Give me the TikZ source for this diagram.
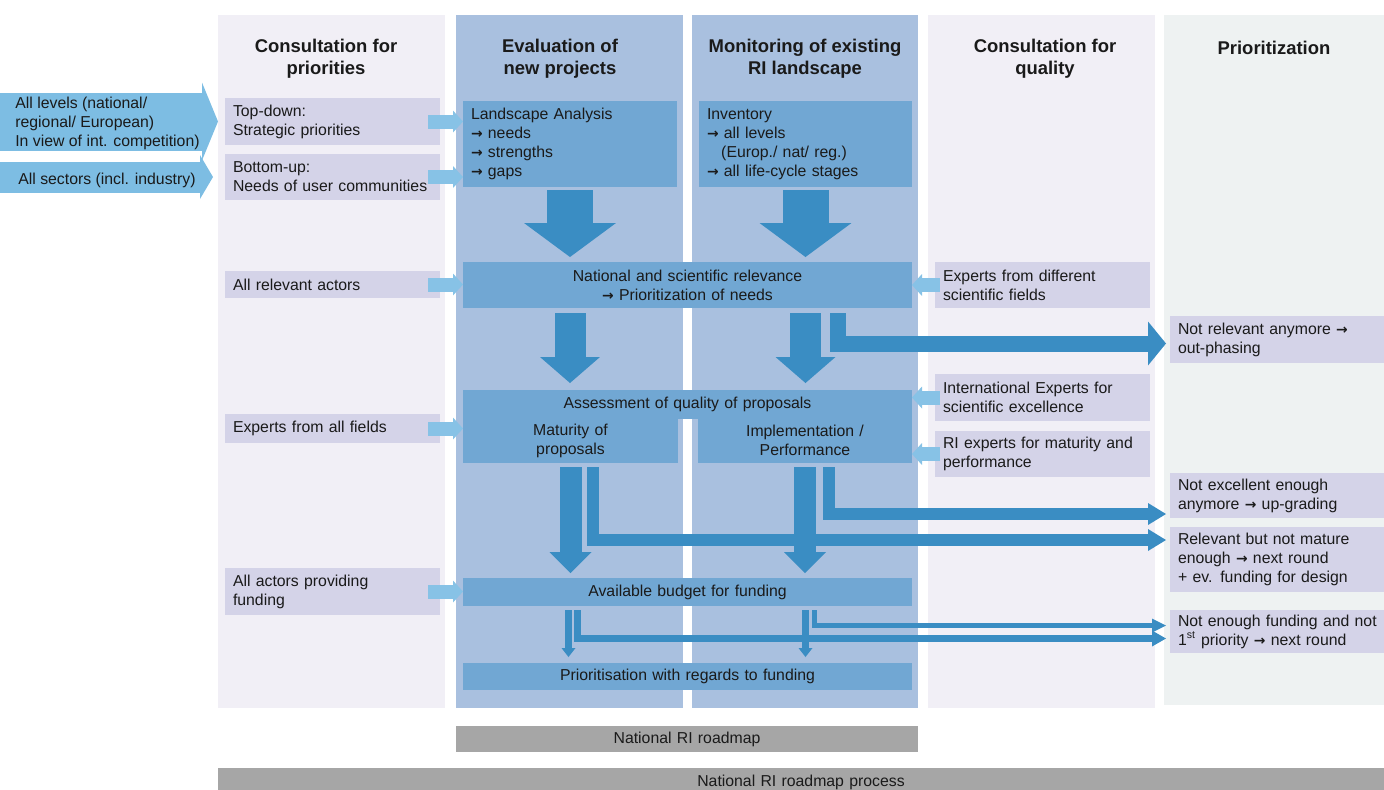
\documentclass[tikz,border=0pt]{standalone}
\usepackage{fontspec}
\setmainfont{Liberation Sans}
\newfontfamily\arrowfont{DejaVu Sans Bold}[Scale=0.88]
\usetikzlibrary{arrows.meta}
\definecolor{bgL}{HTML}{F1EFF6}
\definecolor{bgP}{HTML}{EEF2F2}
\definecolor{bgB}{HTML}{A9C0DF}
\definecolor{boxB}{HTML}{71A7D3}
\definecolor{arrD}{HTML}{3A8DC3}
\definecolor{lavB}{HTML}{D4D3E8}
\definecolor{arrL}{HTML}{87C2E6}
\definecolor{arrBig}{HTML}{7DBDE3}
\definecolor{greyB}{HTML}{A6A6A6}
\definecolor{txt}{HTML}{1A1A1A}
\newcommand\rar{{\arrowfont →}}
\newcommand\bx[7]{%
 \pgfmathsetlengthmacro\bxw{(#5-#3)*0.02cm}%
 \pgfmathsetlengthmacro\bxh{(#6-#4)*0.02cm}%
 \pgfmathsetlengthmacro\bxt{(#5-#3-16)*0.02cm}%
 \node[#1, minimum width=\bxw, minimum height=\bxh, text width=\bxt] (#2) at ({(#3+#5)/2},{(#4+#6)/2}) {#7};}
\tikzset{
 bxbase/.style={inner xsep=0.16cm, inner ysep=0pt, outer sep=0pt, text=txt, font=\fontsize{9}{10.8}\selectfont},
 colbg/.style={bxbase, fill=#1},
 lav/.style={bxbase, fill=lavB, align=left},
 bbl/.style={bxbase, fill=boxB, align=left},
 bbc/.style={bxbase, fill=boxB, align=center},
 greybox/.style={bxbase, fill=greyB, align=center},
 hdr/.style={inner sep=0pt, align=center, text=txt, font=\bfseries\fontsize{10.5}{12.5}\selectfont},
 atxt/.style={inner sep=0pt, anchor=west, align=left, text=txt, font=\fontsize{9}{10.8}\selectfont},
 blk/.style n args={4}{draw=#1, line width=#2, line join=miter, -{Triangle[width=#3,length=#4,line width=0pt]}},
 lt/.style={blk={arrL}{0.28cm}{0.44cm}{0.2cm}},
}
\begin{document}
\begin{tikzpicture}[x=0.02cm, y=-0.02cm]
\useasboundingbox (0,0) rectangle (1384,789);
\clip (0,0) rectangle (1384,789);
% columns
\bx{colbg=bgL}{c1}{218}{15}{445}{708}{}
\bx{colbg=bgB}{c2}{456}{15}{683}{708}{}
\bx{colbg=bgB}{c3}{692}{15}{918}{708}{}
\bx{colbg=bgL}{c4}{928}{15}{1155}{708}{}
\bx{colbg=bgP}{c5}{1164}{15}{1384}{705}{}
% headers
\node[hdr] (h1) at (326,59) {Consultation for\\priorities};
\node[hdr] (h2) at (560,59) {Evaluation of\\new projects};
\node[hdr] (h3) at (805,59) {Monitoring of existing\\RI landscape};
\node[hdr] (h4) at (1045,59) {Consultation for\\quality};
\node[hdr] (h5) at (1274,48) {Prioritization};
% column 1
\bx{lav}{td}{225}{98}{440}{145}{Top-down:\\Strategic priorities}
\bx{lav}{bu}{225}{154}{440}{200}{Bottom-up:\\Needs of user communities}
\bx{lav}{ra}{225}{271}{440}{298}{All relevant actors}
\bx{lav}{ef}{225}{414}{440}{443}{Experts from all fields}
\bx{lav}{fu}{225}{568}{440}{615}{All actors providing\\funding}
% columns 2/3
\bx{bbl}{la}{463}{101}{677}{187}{Landscape Analysis\\\rar{} needs\\\rar{} strengths\\\rar{} gaps}
\bx{bbl}{inv}{699}{101}{912}{187}{Inventory\\\rar{} all levels\\\hspace*{0.9em}(Europ./ nat/ reg.)\\\rar{} all life-cycle stages}
\bx{bbc}{nat}{463}{262}{912}{308}{National and scientific relevance\\\rar{} Prioritization of needs}
\bx{bbc}{as}{463}{390}{912}{419}{Assessment of quality of proposals}
\bx{bbc}{mat}{463}{418}{678}{463}{Maturity of\\proposals}
\bx{bbc}{imp}{698}{418}{912}{463}{Implementation /\\Performance}
\bx{bbc}{bud}{463}{578}{912}{606}{Available budget for funding}
\bx{bbc}{pri}{463}{663}{912}{690}{Prioritisation with regards to funding}
% column 4
\bx{lav}{edf}{935}{262}{1150}{308}{Experts from different\\scientific fields}
\bx{lav}{ief}{935}{374}{1150}{421}{International Experts for\\scientific excellence}
\bx{lav}{rie}{935}{431}{1150}{477}{RI experts for maturity and\\performance}
% column 5
\bx{lav}{nr}{1170}{316}{1400}{363}{Not relevant anymore \rar\\out-phasing}
\bx{lav}{ne}{1170}{473}{1400}{518}{Not excellent enough\\anymore \rar{} up-grading}
\bx{lav}{rb}{1170}{527}{1400}{592}{Relevant but not mature\\enough \rar{} next round\\+ ev. funding for design}
\bx{lav}{nf}{1170}{610}{1400}{653}{Not enough funding and not\\1\textsuperscript{st} priority \rar{} next round}
% bottom bars
\bx{greybox}{rm}{456}{726}{918}{752}{National RI roadmap}
\bx{greybox}{rmp}{218}{768}{1384}{796}{National RI roadmap process}
% big input arrows
\coordinate (lvS) at (0,121.5);
\draw[blk={arrBig}{1.16cm}{1.56cm}{0.32cm}] (lvS) -- ([xshift=-0.14cm]td.west);
\node[atxt] (lvT) at (15,123) {All levels (national/\\regional/ European)\\In view of int. competition)};
\coordinate (scS) at (0,177);
\draw[blk={arrBig}{0.62cm}{0.88cm}{0.26cm}] (scS) -- ([xshift=-0.24cm]bu.west);
\node[atxt] (scT) at (18,180) {All sectors (incl. industry)};
% small light arrows
\draw[lt] ([xshift=-0.24cm]td.east) -- (la.west |- td.east);
\draw[lt] ([xshift=-0.24cm]bu.east) -- (la.west |- bu.east);
\draw[lt] ([xshift=-0.24cm]ra.east) -- (nat.west |- ra.east);
\draw[lt] ([xshift=-0.24cm]ef.east) -- (mat.west |- ef.east);
\draw[lt] ([xshift=-0.24cm]fu.east) -- (bud.west |- fu.east);
\draw[lt] ([xshift=0.1cm]edf.west) -- (nat.east |- edf.west);
\draw[lt] ([xshift=0.1cm]ief.west) -- (as.east |- ief.west);
\draw[lt] ([xshift=0.1cm]rie.west) -- (imp.east |- rie.west);
% big down arrows
\draw[blk={arrD}{0.92cm}{1.84cm}{0.68cm}] ([yshift=-0.06cm]la.south) -- ([yshift=0.1cm]nat.north -| la.south);
\draw[blk={arrD}{0.92cm}{1.84cm}{0.68cm}] ([yshift=-0.06cm]inv.south) -- ([yshift=0.1cm]nat.north -| inv.south);
% national -> assessment
\draw[blk={arrD}{0.62cm}{1.2cm}{0.52cm}] ([yshift=-0.1cm]nat.south -| la.south) -- ([yshift=0.14cm]as.north -| la.south);
\draw[blk={arrD}{0.62cm}{1.2cm}{0.52cm}] ([yshift=-0.1cm]nat.south -| inv.south) -- ([yshift=0.14cm]as.north -| inv.south);
\draw[blk={arrD}{0.32cm}{0.88cm}{0.36cm}] ([yshift=-0.1cm]nat.south -| 837.5,0) |- ([xshift=-0.08cm]nr.west |- 0,343.5);
% assessment -> budget
\draw[blk={arrD}{0.24cm}{0.44cm}{0.36cm}] ([yshift=-0.08cm]mat.south -| 592.5,0) |- ([xshift=-0.08cm]rb.west |- 0,540);
\draw[blk={arrD}{0.24cm}{0.44cm}{0.36cm}] ([yshift=-0.08cm]imp.south -| 829,0) |- ([xshift=-0.08cm]ne.west |- 0,514);
\draw[blk={arrD}{0.44cm}{0.84cm}{0.42cm}] ([yshift=-0.08cm]mat.south) -- ([yshift=0.1cm]bud.north -| mat.south);
\draw[blk={arrD}{0.44cm}{0.84cm}{0.42cm}] ([yshift=-0.08cm]imp.south) -- ([yshift=0.1cm]bud.north -| imp.south);
% budget -> prioritisation
\draw[blk={arrD}{0.14cm}{0.32cm}{0.28cm}] ([yshift=-0.08cm]bud.south -| 577.5,0) |- ([xshift=-0.08cm]nf.west |- 0,638.5);
\draw[blk={arrD}{0.1cm}{0.28cm}{0.28cm}] ([yshift=-0.08cm]bud.south -| 814.5,0) |- ([xshift=-0.08cm]nf.west |- 0,625.5);
\draw[blk={arrD}{0.14cm}{0.28cm}{0.18cm}] ([yshift=-0.08cm]bud.south -| 568.5,0) -- ([yshift=0.12cm]pri.north -| 568.5,0);
\draw[blk={arrD}{0.14cm}{0.28cm}{0.18cm}] ([yshift=-0.08cm]bud.south -| 805.5,0) -- ([yshift=0.12cm]pri.north -| 805.5,0);
\end{tikzpicture}
\end{document}
